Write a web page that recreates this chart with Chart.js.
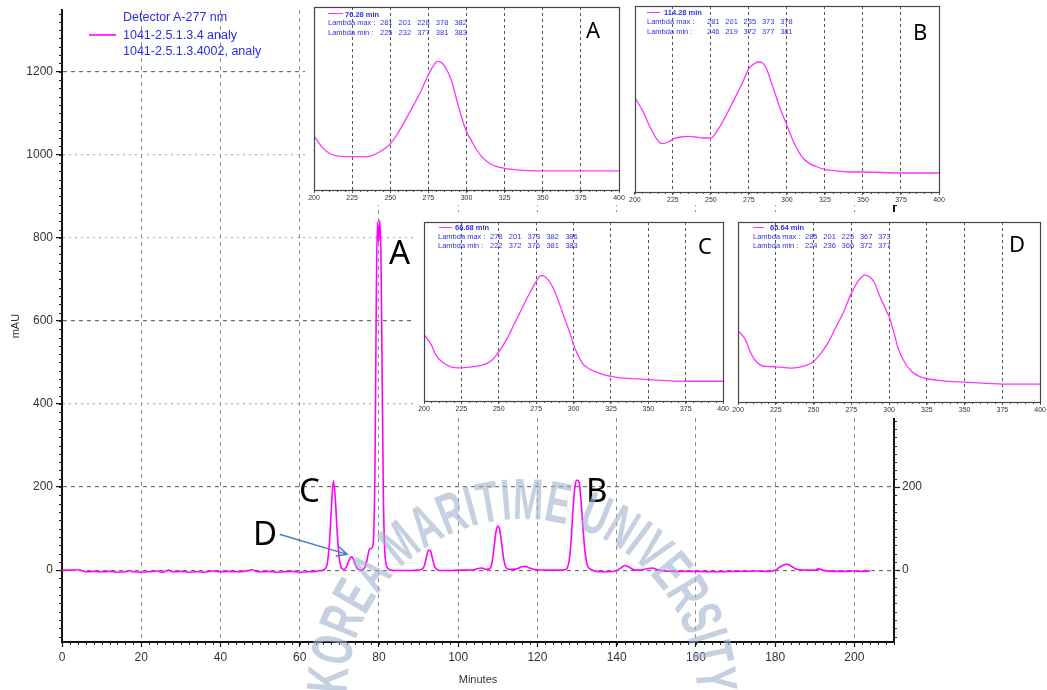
<!DOCTYPE html>
<html><head><meta charset="utf-8">
<script src="https://cdn.jsdelivr.net/npm/chart.js@4.4.1/dist/chart.umd.min.js"></script>
<style>
html,body{margin:0;padding:0;background:#fff;}
#wrap{position:relative;width:1047px;height:690px;overflow:hidden;font-family:"Liberation Sans",Arial,sans-serif;}
#main{position:absolute;left:0;top:0;}
#wm{position:absolute;left:0;top:0;pointer-events:none;}
.inset{position:absolute;background:#fff;}
.inset canvas{position:absolute;left:0;top:0;}
.big{position:absolute;font-family:"Noto Sans",sans-serif;color:#000;line-height:1;white-space:nowrap;}
.leg{position:absolute;color:#2b2bf0;font-size:12.5px;line-height:14px;white-space:nowrap;}
.sleg{position:absolute;color:#3030f0;font-size:7.5px;line-height:9px;white-space:nowrap;}
.sline{position:absolute;height:0;border-top:1.5px solid #ff33ff;}
</style>
</head><body>
<div id="wrap">
<canvas id="main" width="1047" height="690"></canvas>
<svg id="wm" width="1047" height="690">
  <defs><path id="wmArc" d="M 347 694 A 175 175 0 0 1 697 694"/></defs>
  <text font-family="Liberation Sans Narrow, Liberation Sans, Arial, sans-serif" font-weight="bold" font-size="58" fill="#9fb3cc" fill-opacity="0.6">
    <textPath href="#wmArc" startOffset="0" textLength="548" lengthAdjust="spacingAndGlyphs">KOREA MARITIME UNIVERSITY</textPath>
  </text>
</svg>
</div>
<script>
// ---------------- data: main chromatogram (Detector A-277 nm) ----------------
const runTimes = [0,2,4,5,6,8,10,12,14,16,17,18,20,22,24,25,26,27,28,30,32,34,36,38,40,42,44,46,47,48,49,50,52,54,56,58,60,62,64,65,
66,66.5,67,67.5,68,68.5,69,69.5,70,70.5,71,71.5,72,72.5,73,73.5,74,74.5,75,75.5,76,76.5,77,77.5,78,78.5,
79,79.3,79.6,79.9,80.2,80.5,80.8,81.1,81.4,81.8,82.5,83,84,86,88,90,
91,91.5,92,92.5,93,93.5,94,94.5,95,96,98,100,102,104,105,106,107,
108,108.5,109,109.5,110,110.5,111,111.5,112,112.5,113,114,115,116,117,118,119,120,122,124,126,
127,127.5,128,128.5,129,129.5,130,130.5,131,131.5,132,132.5,133,134,135,136,138,140,
141,142,143,144,145,146,147,148,149,150,152,156,160,165,170,175,178,180,181,182,183,184,185,186,188,190,191,192,195,198,200,202,204];
const runAbs = [0,0,1,-1,-4,-3,-4,-3,-5,-4,-1,-4,-5,-4,-2,-5,-3,0,-4,-3,-5,-4,-5,-2,-4,-3,-4,-3,-1,1,-3,-4,-3,-5,-4,-3,-5,-4,-3,-1,
0,4,18,65,150,215,170,85,28,6,2,4,12,25,32,28,14,4,1,0,2,8,25,48,52,60,
250,620,838,790,842,760,480,190,60,15,2,0,-1,-1,-1,0,
3,12,32,48,46,28,10,3,0,-1,-1,0,0,1,4,5,2,
4,16,50,90,106,96,62,26,8,3,2,2,4,8,9,5,2,1,0,0,0,
1,5,22,70,150,203,217,212,168,100,45,15,5,0,-3,-4,-4,-1,
5,11,8,2,0,0,2,4,5,2,-2,-3,-3,-4,-3,-2,-3,0,6,12,14,10,4,1,0,0,3,0,-3,-3,-2,-3,-2];
const timeTicks = [0,20,40,60,80,100,120,140,160,180,200];
const mauTicks = [0,200,400,600,800,1000,1200];
const darkMauLines = [0,200,600,1200];

// ---------------- data: UV spectra (insets) ----------------
const wavelengthsA = [200,205,210,215,220,225,230,235,240,245,250,255,260,265,270,275,278,281,284,287,290,293,296,300,303,306,310,315,320,325,330,340,350,375,400];
const absorbA      = [162,130,110,102,100,100,100,100,107,120,138,170,210,252,295,345,370,385,380,360,330,280,230,175,150,125,100,80,70,65,62,58,57,57,57];
const wavelengthsB = [200,205,210,215,218,222,226,230,235,240,245,250,255,260,265,270,275,278,281,284,287,290,293,296,300,303,306,310,315,320,325,330,340,350,375,400];
const absorbB      = [283,245,195,155,145,150,160,165,167,165,162,162,190,230,275,320,370,383,390,387,365,325,285,245,200,165,135,105,85,75,68,65,60,60,57,57];
const wavelengthsC = [200,205,208,212,218,225,230,240,245,250,255,260,265,270,275,278,280,283,287,290,294,298,300,303,306,310,315,320,325,330,340,350,375,400];
const absorbC      = [199,167,137,117,102,99,101,109,120,147,182,227,272,317,357,375,374,362,332,297,247,197,167,137,112,97,87,79,74,70,67,64,59,59];
const wavelengthsD = [200,205,208,212,218,225,235,240,245,250,255,260,265,270,275,280,284,287,290,294,298,300,303,306,310,315,320,325,330,340,350,375,400];
const absorbD      = [215,187,152,122,107,106,102,104,110,122,147,182,227,272,327,367,382,377,362,317,277,257,212,162,122,92,77,70,67,62,60,54,54];
const nmTicks = [200,225,250,275,300,325,350,375,400];

const peakTimes = ['76.28 min','114.28 min','66.68 min','65.64 min'];
const lambdaMax = [[281,201,228,378,382],[281,201,235,373,378],[278,201,373,382,386],[285,201,225,367,373]];
const lambdaMin = [[225,232,377,381,383],[246,219,372,377,381],[222,372,376,381,383],[224,236,366,372,377]];
const peakLetters = ['A','B','C','D'];
const legendLines = ['Detector A-277 nm','1041-2.5.1.3.4 analy','1041-2.5.1.3.4002, analy'];
const arrowFrom = [55.1, 86];
const arrowTo = [72.0, 38];

// ---------------- helpers ----------------
const wrap = document.getElementById('wrap');
function addDiv(cls, text, css, parent){
  const d = document.createElement('div'); d.className = cls; if (text!==null) d.textContent = text;
  Object.assign(d.style, css); (parent||wrap).appendChild(d); return d;
}

const minorTickPlugin = {
  id:'minorTicks',
  afterDraw(chart, args, opts){
    const ctx = chart.ctx; ctx.save(); ctx.strokeStyle = opts.color||'#000'; ctx.lineWidth = opts.width||1;
    (opts.list||[]).forEach(m=>{
      const s = chart.scales[m.scale];
      for (let v = m.from; v <= m.to + 1e-9; v += m.step){
        const p = Math.round(s.getPixelForValue(v)) + 0.5;
        ctx.beginPath();
        if (m.side==='left'){ ctx.moveTo(s.right, p); ctx.lineTo(s.right - m.len, p); }
        else if (m.side==='right'){ ctx.moveTo(s.left, p); ctx.lineTo(s.left + m.len, p); }
        else { ctx.moveTo(p, s.top - (m.up||0)); ctx.lineTo(p, s.top + m.len); }
        ctx.stroke();
      }
    });
    ctx.restore();
  }
};
const framePlugin = {
  id:'frame',
  afterDraw(chart, args, opts){
    if (!opts.on) return;
    const a = chart.chartArea, ctx = chart.ctx; ctx.save();
    ctx.strokeStyle = opts.color; ctx.lineWidth = opts.width;
    ctx.strokeRect(Math.round(a.left)+0.5, Math.round(a.top)+0.5, Math.round(a.right-a.left), Math.round(a.bottom-a.top));
    ctx.restore();
  }
};
const arrowPlugin = {
  id:'arrow',
  afterDraw(chart, args, opts){
    if (!opts.on) return;
    const x = chart.scales.x, y = chart.scales.y, ctx = chart.ctx;
    const x1 = x.getPixelForValue(arrowFrom[0]), y1 = y.getPixelForValue(arrowFrom[1]);
    const x2 = x.getPixelForValue(arrowTo[0]), y2 = y.getPixelForValue(arrowTo[1]);
    const ang = Math.atan2(y2-y1, x2-x1), L = 11, w = 0.45;
    ctx.save(); ctx.strokeStyle = '#4a7ebb'; ctx.lineWidth = 1.5; ctx.lineCap='round';
    ctx.beginPath(); ctx.moveTo(x1,y1); ctx.lineTo(x2,y2);
    ctx.moveTo(x2 - L*Math.cos(ang-w), y2 - L*Math.sin(ang-w)); ctx.lineTo(x2,y2);
    ctx.lineTo(x2 - L*Math.cos(ang+w), y2 - L*Math.sin(ang+w));
    ctx.stroke(); ctx.restore();
  }
};
Chart.register(minorTickPlugin, framePlugin, arrowPlugin);
Chart.defaults.font.family = '"Liberation Sans", Arial, sans-serif';

// ---------------- main chart ----------------
const Y_MIN = -173, Y_MAX = 1348;
const tickFont = {size:12, family:'"Liberation Sans", Arial, sans-serif'};
const plain = v => String(v);
new Chart(document.getElementById('main'), {
  type:'line',
  data:{datasets:[{
    data: runTimes.map((t,i)=>({x:t, y:runAbs[i]})),
    borderColor:'#ff00ff', borderWidth:1.6, pointRadius:0, cubicInterpolationMode:'monotone', fill:false
  }]},
  options:{
    responsive:false, animation:false, events:[],
    layout:{padding:{top:10,left:0,right:0,bottom:0}},
    plugins:{legend:{display:false}, tooltip:{enabled:false}, frame:{on:false},
      arrow:{on:true},
      minorTicks:{color:'#222', width:1, list:[
        {scale:'y', side:'left', from:-160, to:1340, step:20, len:3},
        {scale:'y2', side:'right', from:-160, to:1340, step:20, len:3},
        {scale:'x', side:'bottom', from:0, to:210, step:2, len:3, up:1}
      ]}},
    scales:{
      x:{type:'linear', position:'bottom', min:0, max:210,
        afterBuildTicks:s=>{s.ticks = timeTicks.map(v=>({value:v}));},
        afterFit:s=>{s.height = 48;},
        ticks:{color:'#333', font:tickFont, padding:3, maxRotation:0, autoSkip:false, callback:plain},
        grid:{color:'#8a8a8a', lineWidth:1, tickLength:5, tickColor:'#111', tickWidth:1.2},
        border:{color:'#111', width:2, dash:[4,4]},
        title:{display:true, text:'Minutes', color:'#333', font:{size:11}, padding:{top:0,bottom:3}}
      },
      y:{type:'linear', position:'left', min:Y_MIN, max:Y_MAX,
        afterBuildTicks:s=>{s.ticks = mauTicks.map(v=>({value:v}));},
        afterFit:s=>{s.width = 62;},
        ticks:{color:'#333', font:tickFont, padding:3, autoSkip:false, callback:plain},
        grid:{color:ctx=> darkMauLines.includes(ctx.tick && ctx.tick.value) ? '#6e6e6e' : '#b4b4b4', lineWidth:1.2, tickLength:6, tickColor:'#111', tickWidth:1.2},
        border:{color:'#111', width:2, dash:ctx=> darkMauLines.includes(ctx.tick && ctx.tick.value) ? [4,4] : [2,4]},
        title:{display:true, text:'mAU', color:'#333', font:{size:11}, padding:{top:9,bottom:0}}
      },
      y2:{type:'linear', position:'right', min:Y_MIN, max:Y_MAX,
        afterBuildTicks:s=>{s.ticks = mauTicks.map(v=>({value:v}));},
        afterFit:s=>{s.width = 153;},
        ticks:{color:'#333', font:tickFont, padding:2, autoSkip:false, callback:plain},
        grid:{drawOnChartArea:false, tickLength:6, tickColor:'#111', tickWidth:1.2},
        border:{color:'#111', width:2}
      }
    }
  }
});

// main legend
addDiv('leg', legendLines[0], {left:'123px', top:'10px'});
addDiv('sline', null, {left:'89px', top:'34px', width:'27px', borderTopWidth:'2px', borderTopColor:'#ff33ff'});
addDiv('leg', legendLines[1], {left:'123px', top:'28px'});
addDiv('leg', legendLines[2], {left:'123px', top:'44px'});

// big peak letters on the chromatogram
const bigPos = [[389,235],[586,473],[299,473],[253,516]];
peakLetters.forEach((L,i)=> addDiv('big', L, {left:bigPos[i][0]+'px', top:bigPos[i][1]+'px', fontSize:'33px'}));

// ---------------- insets ----------------
const insets = [
  {nm:wavelengthsA, ab:absorbA, yMax:548, box:[305,0,325,205], pad:{left:9,right:11,top:7}, axisH:15,
   line:[23,38,14], timeX:40, labX:23, rows:[22,32], numX:75, numStep:18.6, letter:[281,22]},
  {nm:wavelengthsB, ab:absorbB, yMax:558, box:[628,0,319,205], pad:{left:6,right:8,top:6}, axisH:13,
   line:[19,32,12.5], timeX:36, labX:19, rows:[21,31], numX:79, numStep:18.3, letter:[285,24]},
  {nm:wavelengthsC, ab:absorbC, yMax:535, box:[413,212,317,206], pad:{left:11,right:6,top:10}, axisH:17,
   line:[26,39,15.5], timeX:42, labX:25, rows:[24,33], numX:77, numStep:18.8, letter:[285,26]},
  {nm:wavelengthsD, ab:absorbD, yMax:542, box:[730,212,317,206], pad:{left:8,right:6,top:10}, axisH:16,
   line:[23,34,15.5], timeX:40, labX:23, rows:[24,33], numX:75, numStep:18.3, letter:[279,24]}
];
insets.forEach((d,i)=>{
  const div = addDiv('inset', null, {left:d.box[0]+'px', top:d.box[1]+'px', width:d.box[2]+'px', height:d.box[3]+'px'});
  const cv = document.createElement('canvas'); cv.width = d.box[2]; cv.height = d.box[3]; div.appendChild(cv);
  new Chart(cv, {
    type:'line',
    data:{datasets:[{data:d.nm.map((w,k)=>({x:w, y:d.ab[k]})), borderColor:'#ff33ff', borderWidth:1.3, pointRadius:0, cubicInterpolationMode:'monotone', fill:false}]},
    options:{
      responsive:false, animation:false, events:[],
      layout:{padding:{left:d.pad.left, right:d.pad.right, top:d.pad.top, bottom:0}},
      plugins:{legend:{display:false}, tooltip:{enabled:false}, frame:{on:true, color:'#444', width:1.2}, arrow:{on:false},
        minorTicks:{color:'#555', width:1, list:[{scale:'x', side:'bottom', from:200, to:400, step:5, len:2}]}},
      scales:{
        x:{type:'linear', min:200, max:400,
          afterBuildTicks:s=>{s.ticks = nmTicks.map(v=>({value:v}));},
          afterFit:s=>{s.height = d.axisH;},
          ticks:{color:'#333', font:{size:7}, padding:1, maxRotation:0, autoSkip:false},
          grid:{color:ctx=> (ctx.tick && (ctx.tick.value===200 || ctx.tick.value===400)) ? 'rgba(0,0,0,0)' : '#555', lineWidth:1, tickLength:3, tickColor:'#555'},
          border:{display:false, dash:[3,3]}
        },
        y:{display:false, min:0, max:d.yMax}
      }
    }
  });
  // inset legend
  addDiv('sline', null, {left:d.line[0]+'px', top:(d.line[2]-0.75)+'px', width:(d.line[1]-d.line[0])+'px'}, div);
  addDiv('sleg', peakTimes[i], {left:d.timeX+'px', top:(d.line[2]-4.5)+'px', fontWeight:'bold'}, div);
  addDiv('sleg', 'Lambda max :', {left:d.labX+'px', top:(d.rows[0]-4.5)+'px'}, div);
  addDiv('sleg', 'Lambda min :', {left:d.labX+'px', top:(d.rows[1]-4.5)+'px'}, div);
  lambdaMax[i].forEach((v,k)=> addDiv('sleg', String(v), {left:(d.numX + k*d.numStep)+'px', top:(d.rows[0]-4.5)+'px'}, div));
  lambdaMin[i].forEach((v,k)=> addDiv('sleg', String(v), {left:(d.numX + k*d.numStep)+'px', top:(d.rows[1]-4.5)+'px'}, div));
  addDiv('big', peakLetters[i], {left:d.letter[0]+'px', top:d.letter[1]-4+'px', fontSize:'22px'}, div);
});
// keep the watermark above everything
wrap.appendChild(document.getElementById('wm'));
</script>
</body></html>
